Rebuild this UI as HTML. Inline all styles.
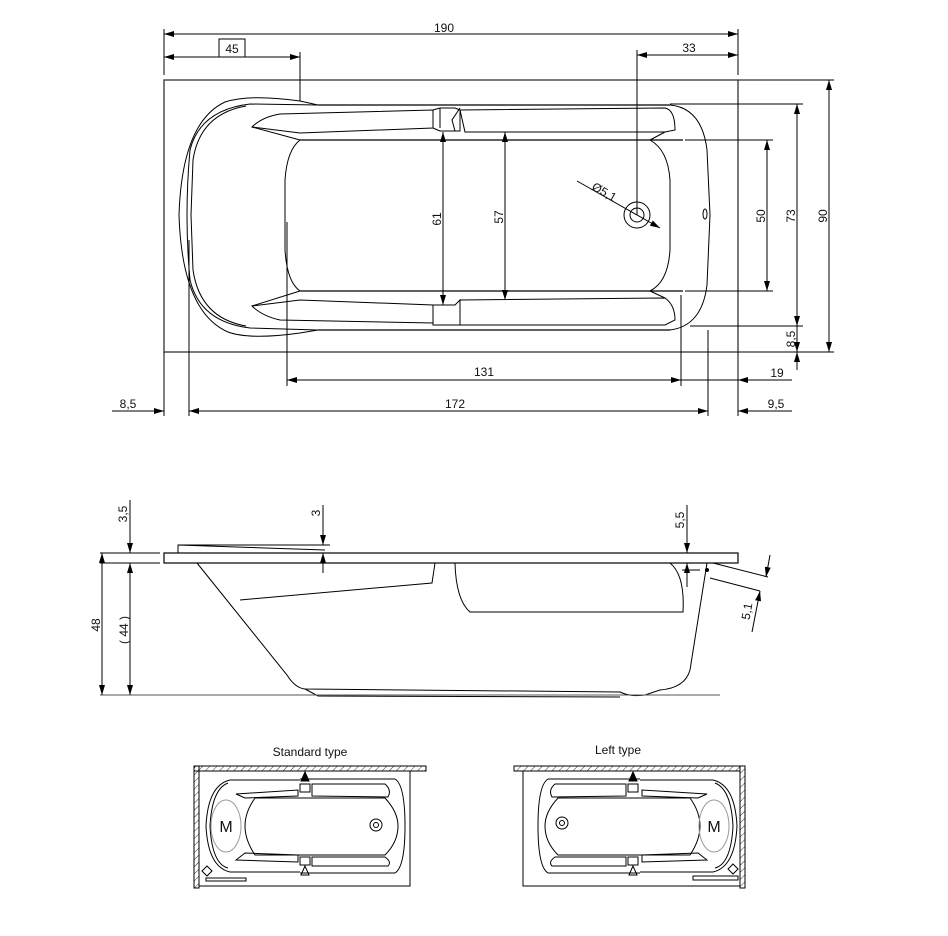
<!DOCTYPE html>
<html><head><meta charset="utf-8"><style>
html,body{margin:0;padding:0;background:#fff}
svg{display:block}
text{font-family:"Liberation Sans",sans-serif;font-size:12px;fill:#111}
</style></head><body>
<svg width="948" height="936" viewBox="0 0 948 936" xmlns="http://www.w3.org/2000/svg">
<defs>
<marker id="a" viewBox="0 0 10 6" refX="10" refY="3" markerWidth="10" markerHeight="6" orient="auto-start-reverse" markerUnits="userSpaceOnUse"><path d="M0,0L10,3L0,6z" fill="#000"/></marker>
<pattern id="h" width="5" height="5" patternUnits="userSpaceOnUse" patternTransform="rotate(45)"><line x1="0" y1="0" x2="0" y2="5" stroke="#000" stroke-width="0.8"/></pattern>
</defs>
<g stroke="#000" fill="none" stroke-width="1">
<!-- TOP VIEW -->
<rect x="164" y="80" width="574" height="272" stroke="#333" stroke-width="1.3"/>
<line x1="164" y1="29" x2="164" y2="75"/><line x1="738" y1="29" x2="738" y2="75"/>
<line x1="164" y1="34" x2="738" y2="34" marker-start="url(#a)" marker-end="url(#a)"/>
<rect x="219" y="39" width="26" height="18"/>
<line x1="164" y1="57" x2="300" y2="57" marker-start="url(#a)" marker-end="url(#a)"/>
<line x1="300" y1="52" x2="300" y2="101"/>
<line x1="637" y1="55" x2="738" y2="55" marker-start="url(#a)" marker-end="url(#a)"/>
<line x1="637" y1="50" x2="637" y2="215"/>
<path d="M318,105 L300,101 Q250,94 225,102 Q182,122 179,215 Q182,312 228,332 Q250,340 300,333 L318,330" />
<path d="M318,105 L250,104 Q200,110 190,150 Q184,215 190,280 Q200,322 250,328 L318,330"/>
<path d="M246,106 Q200,114 193,160 L191,215 L193,270 Q200,318 246,326"/>
<line x1="318" y1="105" x2="670" y2="105" stroke-width="1.3"/>
<line x1="318" y1="330" x2="670" y2="330" stroke-width="1.3"/>
<path d="M670,105 Q702,108 707,150 L710,215 L707,285 Q702,326 670,330"/>
<path d="M252,127 Q262,117 280,114 L433,110 L433,128 L300,133 Z"/>
<path d="M433,110 L440,108 L455,108 L460,110 L460,131 L455,131 L440,131 L433,128"/>
<path d="M460,108 L452,120 L455,131 M440,108 L440,128"/>
<path d="M460,110 L665,108 Q675,110 675,130 L665,132 L465,132 Z"/>
<line x1="300" y1="140" x2="683" y2="140" stroke-width="1.2"/>
<path d="M252,127 L300,140"/>
<path d="M665,132 L650,140"/>
<path d="M252,306 Q262,316 280,320 L433,323 L433,305 L300,300 Z"/>
<path d="M433,305 L440,305 L455,305 L460,300 L460,325 L433,325 Z"/>
<path d="M460,300 L665,298 Q675,305 675,320 L665,325 L460,325"/>
<line x1="300" y1="291" x2="683" y2="291" stroke-width="1.2"/>
<path d="M252,306 L300,291"/>
<path d="M665,298 L650,291"/>
<path d="M300,140 Q287,150 285,180 L285,250 Q287,282 300,291"/>
<path d="M650,140 Q668,150 670,180 L670,250 Q668,282 650,291"/>
<circle cx="637" cy="215" r="13"/><circle cx="637" cy="215" r="7"/>
<line x1="577" y1="181" x2="660" y2="228" marker-end="url(#a)"/>
<ellipse cx="705" cy="214" rx="2" ry="5"/>
<line x1="738" y1="80" x2="834" y2="80"/><line x1="738" y1="352" x2="834" y2="352"/>
<line x1="670" y1="104" x2="803" y2="104"/><line x1="690" y1="326" x2="803" y2="326"/>
<line x1="685" y1="140" x2="773" y2="140"/><line x1="685" y1="291" x2="773" y2="291"/>
<line x1="829" y1="80" x2="829" y2="352" marker-start="url(#a)" marker-end="url(#a)"/>
<line x1="797" y1="104" x2="797" y2="326" marker-start="url(#a)" marker-end="url(#a)"/>
<line x1="767" y1="140" x2="767" y2="291" marker-start="url(#a)" marker-end="url(#a)"/>
<line x1="797" y1="326" x2="797" y2="352" marker-end="url(#a)"/>
<line x1="797" y1="370" x2="797" y2="352" marker-end="url(#a)"/>
<line x1="443" y1="132" x2="443" y2="305" marker-start="url(#a)" marker-end="url(#a)"/>
<line x1="505" y1="132" x2="505" y2="300" marker-start="url(#a)" marker-end="url(#a)"/>
<line x1="164" y1="352" x2="164" y2="416"/><line x1="738" y1="352" x2="738" y2="416"/>
<line x1="189" y1="240" x2="189" y2="416"/><line x1="287" y1="222" x2="287" y2="386"/>
<line x1="681" y1="295" x2="681" y2="386"/><line x1="708" y1="330" x2="708" y2="416"/>
<line x1="287" y1="380" x2="681" y2="380" marker-start="url(#a)" marker-end="url(#a)"/>
<line x1="681" y1="380" x2="738" y2="380"/>
<line x1="792" y1="380" x2="738" y2="380" marker-end="url(#a)"/>
<line x1="189" y1="411" x2="708" y2="411" marker-start="url(#a)" marker-end="url(#a)"/>
<line x1="112" y1="411" x2="164" y2="411" marker-end="url(#a)"/>
<line x1="792" y1="411" x2="738" y2="411" marker-end="url(#a)"/>

<!-- SIDE VIEW -->
<rect x="164" y="553" width="574" height="10" stroke-width="1.2"/>
<path d="M178,553 L178,545 L325,550"/>
<line x1="178" y1="545" x2="330" y2="545"/>
<path d="M197,563 L287,675 Q295,688 305,689 L620,692 Q630,697 645,695 L660,690 Q685,688 690,670 L707,563"/>
<path d="M305,689 L318,696 L620,697"/>
<path d="M435,563 L432,583 L240,600"/>
<path d="M455,563 Q456,600 470,612 L683,612 Q685,575 670,563"/>
<line x1="100" y1="695" x2="720" y2="695" stroke="#555"/>
<line x1="100" y1="553" x2="160" y2="553"/><line x1="100" y1="563" x2="160" y2="563"/>
<line x1="102" y1="553" x2="102" y2="695" marker-start="url(#a)" marker-end="url(#a)"/>
<line x1="130" y1="563" x2="130" y2="695" marker-start="url(#a)" marker-end="url(#a)"/>
<line x1="130" y1="500" x2="130" y2="553" marker-end="url(#a)"/>
<line x1="323" y1="505" x2="323" y2="545" marker-end="url(#a)"/>
<line x1="323" y1="573" x2="323" y2="553" marker-end="url(#a)"/>
<line x1="687" y1="505" x2="687" y2="553" marker-end="url(#a)"/>
<line x1="687" y1="587" x2="687" y2="563" marker-end="url(#a)"/>
<line x1="682" y1="570" x2="700" y2="570"/>
<circle cx="707" cy="570" r="1.5" fill="#000"/>
<line x1="713" y1="563" x2="768" y2="577"/><line x1="710" y1="578" x2="760" y2="591"/>
<line x1="770" y1="555" x2="766" y2="577" marker-end="url(#a)"/>
<line x1="752" y1="632" x2="760" y2="591" marker-end="url(#a)"/>

<!-- SMALL VIEWS -->
<rect x="194" y="766" width="232" height="5" fill="url(#h)" stroke="#000"/>
<rect x="194" y="766" width="5" height="122" fill="url(#h)" stroke="#000"/>
<rect x="199" y="771" width="211" height="115"/>
<path d="M300,780 L230,780 Q208,785 206,826 Q208,867 230,872 L300,872"/>
<path d="M228,783 Q212,789 210,826 Q212,864 228,868"/>
<line x1="300" y1="779" x2="395" y2="779"/><line x1="300" y1="873" x2="395" y2="873"/>
<path d="M395,779 Q405,785 405,826 Q405,867 395,873"/>
<path d="M236,794 L298,790 L298,796 L245,798 Z M236,860 L298,862 L298,855 L245,853 Z"/>
<rect x="300" y="784" width="10" height="8"/><rect x="300" y="857" width="10" height="8"/>
<path d="M312,784 L385,784 Q392,790 388,797 L312,796 Z M312,857 L385,857 Q392,862 388,866 L312,866 Z"/>
<path d="M255,798 L385,798 Q398,812 398,826 Q398,842 385,855 L255,855 Q245,840 245,826 Q245,812 255,798 Z"/>
<ellipse cx="226" cy="826" rx="15" ry="26" stroke="#999"/>
<circle cx="376" cy="825" r="6"/><circle cx="376" cy="825" r="2.5"/>
<path d="M305,772 L301,781 L309,781 Z" fill="#000"/>
<path d="M305,866 L301,875 L309,875 Z"/>
<path d="M207,866 L212,871 L207,876 L202,871 Z"/>
<rect x="206" y="878" width="40" height="3"/>

<rect x="514" y="766" width="226" height="5" fill="url(#h)" stroke="#000"/>
<rect x="740" y="766" width="5" height="122" fill="url(#h)" stroke="#000"/>
<rect x="523" y="771" width="217" height="115"/>
<path d="M640,780 L713,780 Q735,785 737,826 Q735,867 713,872 L640,872"/>
<path d="M715,783 Q731,789 733,826 Q731,864 715,868"/>
<line x1="640" y1="779" x2="548" y2="779"/><line x1="640" y1="873" x2="548" y2="873"/>
<path d="M548,779 Q538,785 538,826 Q538,867 548,873"/>
<path d="M707,794 L642,790 L642,796 L698,798 Z M707,860 L642,862 L642,855 L698,853 Z"/>
<rect x="628" y="784" width="10" height="8"/><rect x="628" y="857" width="10" height="8"/>
<path d="M626,784 L555,784 Q548,790 552,797 L626,796 Z M626,857 L555,857 Q548,862 552,866 L626,866 Z"/>
<path d="M690,798 L558,798 Q545,812 545,826 Q545,842 558,855 L690,855 Q700,840 700,826 Q700,812 690,798 Z"/>
<ellipse cx="714" cy="826" rx="15" ry="26" stroke="#999"/>
<circle cx="562" cy="823" r="6"/><circle cx="562" cy="823" r="2.5"/>
<path d="M633,772 L629,781 L637,781 Z" fill="#000"/>
<path d="M633,866 L629,875 L637,875 Z"/>
<path d="M733,864 L738,869 L733,874 L728,869 Z"/>
<rect x="693" y="876" width="45" height="4"/>
</g>

<text x="444" y="32" text-anchor="middle">190</text>
<text x="232" y="53" text-anchor="middle">45</text>
<text x="689" y="52" text-anchor="middle">33</text>
<text transform="translate(591,189) rotate(30)">Ø5,1</text>
<text transform="translate(441,219) rotate(-90)" text-anchor="middle">61</text>
<text transform="translate(503,217) rotate(-90)" text-anchor="middle">57</text>
<text transform="translate(765,216) rotate(-90)" text-anchor="middle">50</text>
<text transform="translate(795,216) rotate(-90)" text-anchor="middle">73</text>
<text transform="translate(827,216) rotate(-90)" text-anchor="middle">90</text>
<text transform="translate(795,339) rotate(-90)" text-anchor="middle">8,5</text>
<text x="484" y="376" text-anchor="middle">131</text>
<text x="777" y="377" text-anchor="middle">19</text>
<text x="128" y="408" text-anchor="middle">8,5</text>
<text x="455" y="408" text-anchor="middle">172</text>
<text x="776" y="408" text-anchor="middle">9,5</text>
<text transform="translate(127,514) rotate(-90)" text-anchor="middle">3,5</text>
<text transform="translate(320,513) rotate(-90)" text-anchor="middle">3</text>
<text transform="translate(684,520) rotate(-90)" text-anchor="middle">5,5</text>
<text transform="translate(100,625) rotate(-90)" text-anchor="middle">48</text>
<text transform="translate(128,630) rotate(-90)" text-anchor="middle">( 44 )</text>
<text transform="translate(751,612) rotate(-80)" text-anchor="middle">5,1</text>
<text x="310" y="756" text-anchor="middle">Standard type</text>
<text x="618" y="754" text-anchor="middle">Left type</text>
<text x="226" y="832" text-anchor="middle" style="font-size:16px">M</text>
<text x="714" y="832" text-anchor="middle" style="font-size:16px">M</text>
</svg>
</body></html>
